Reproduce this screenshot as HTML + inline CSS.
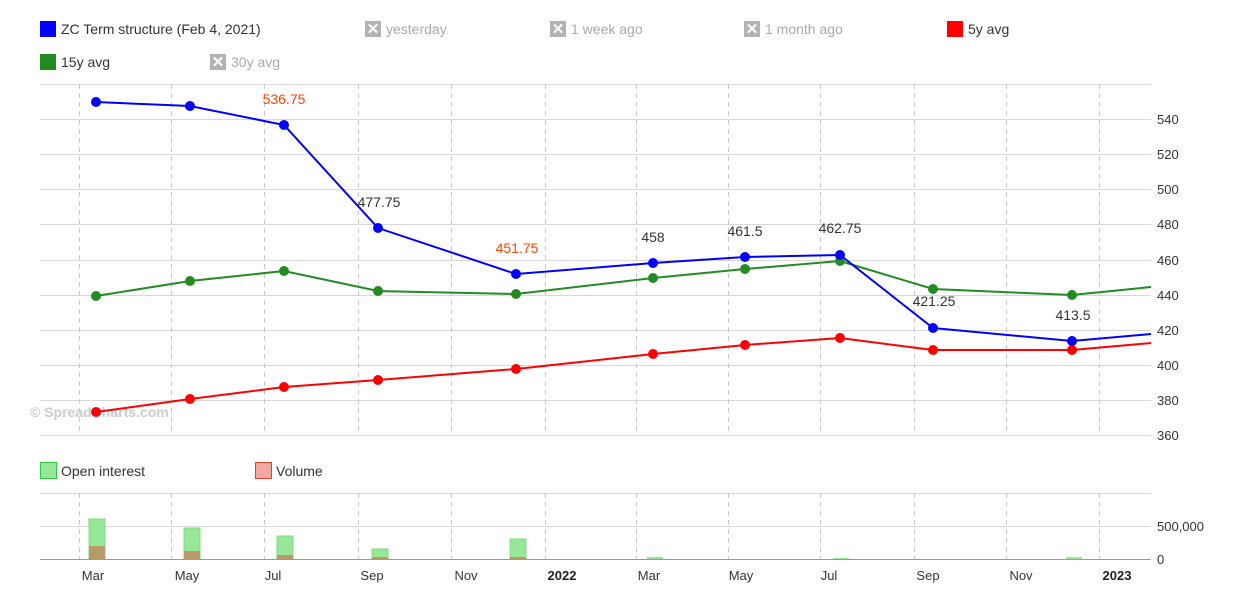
<!DOCTYPE html>
<html><head><style>body{margin:0;background:#fff}svg{display:block;font-family:"Liberation Sans",sans-serif}</style></head><body>
<svg width="1234" height="604" xmlns="http://www.w3.org/2000/svg">
<g font-size="14" fill="#333">
<rect x="40" y="21" width="16" height="16" fill="#0000ff"/><text x="61" y="34">ZC Term structure (Feb 4, 2021)</text>
<rect x="365" y="21" width="16" height="16" fill="#b0b4b4"/><text x="373" y="34" fill="#fff" font-size="15" font-weight="bold" text-anchor="middle">✕</text><text x="386" y="34" fill="#aaa">yesterday</text>
<rect x="550" y="21" width="16" height="16" fill="#b0b4b4"/><text x="558" y="34" fill="#fff" font-size="15" font-weight="bold" text-anchor="middle">✕</text><text x="571" y="34" fill="#aaa">1 week ago</text>
<rect x="744" y="21" width="16" height="16" fill="#b0b4b4"/><text x="752" y="34" fill="#fff" font-size="15" font-weight="bold" text-anchor="middle">✕</text><text x="765" y="34" fill="#aaa">1 month ago</text>
<rect x="947" y="21" width="16" height="16" fill="#ff0000"/><text x="968" y="34">5y avg</text>
<rect x="40" y="54" width="16" height="16" fill="#228b22"/><text x="61" y="67">15y avg</text>
<rect x="210" y="54" width="16" height="16" fill="#b0b4b4"/><text x="218" y="67" fill="#fff" font-size="15" font-weight="bold" text-anchor="middle">✕</text><text x="231" y="67" fill="#aaa">30y avg</text>
<rect x="40.5" y="462.5" width="16" height="16" fill="#98e698" stroke="#2ecc40"/><text x="61" y="476">Open interest</text>
<rect x="255.5" y="462.5" width="16" height="16" fill="#f0a8a0" stroke="#e04030"/><text x="276" y="476">Volume</text>
</g>
<g stroke="#d8d8d8" stroke-width="1">
<line x1="40" x2="1151" y1="84.5" y2="84.5"/><line x1="40" x2="1151" y1="119.5" y2="119.5"/><line x1="40" x2="1151" y1="154.5" y2="154.5"/><line x1="40" x2="1151" y1="189.5" y2="189.5"/><line x1="40" x2="1151" y1="224.5" y2="224.5"/><line x1="40" x2="1151" y1="260.5" y2="260.5"/><line x1="40" x2="1151" y1="295.5" y2="295.5"/><line x1="40" x2="1151" y1="330.5" y2="330.5"/><line x1="40" x2="1151" y1="365.5" y2="365.5"/><line x1="40" x2="1151" y1="400.5" y2="400.5"/><line x1="40" x2="1151" y1="435.5" y2="435.5"/>
<line x1="40" x2="1151" y1="493.5" y2="493.5"/><line x1="40" x2="1151" y1="526.5" y2="526.5"/>
</g>
<g stroke="#c8c8c8" stroke-dasharray="5,4">
<line x1="79.5" x2="79.5" y1="84" y2="435"/><line x1="171.5" x2="171.5" y1="84" y2="435"/><line x1="264.5" x2="264.5" y1="84" y2="435"/><line x1="358.5" x2="358.5" y1="84" y2="435"/><line x1="451.5" x2="451.5" y1="84" y2="435"/><line x1="545.5" x2="545.5" y1="84" y2="435"/><line x1="636.5" x2="636.5" y1="84" y2="435"/><line x1="728.5" x2="728.5" y1="84" y2="435"/><line x1="820.5" x2="820.5" y1="84" y2="435"/><line x1="914.5" x2="914.5" y1="84" y2="435"/><line x1="1006.5" x2="1006.5" y1="84" y2="435"/><line x1="1099.5" x2="1099.5" y1="84" y2="435"/>
<line x1="79.5" x2="79.5" y1="493" y2="559"/><line x1="171.5" x2="171.5" y1="493" y2="559"/><line x1="264.5" x2="264.5" y1="493" y2="559"/><line x1="358.5" x2="358.5" y1="493" y2="559"/><line x1="451.5" x2="451.5" y1="493" y2="559"/><line x1="545.5" x2="545.5" y1="493" y2="559"/><line x1="636.5" x2="636.5" y1="493" y2="559"/><line x1="728.5" x2="728.5" y1="493" y2="559"/><line x1="820.5" x2="820.5" y1="493" y2="559"/><line x1="914.5" x2="914.5" y1="493" y2="559"/><line x1="1006.5" x2="1006.5" y1="493" y2="559"/><line x1="1099.5" x2="1099.5" y1="493" y2="559"/>
</g>
<text x="30" y="417" font-size="14" font-weight="bold" fill="#ccc">© SpreadCharts.com</text>
<g font-size="13" fill="#333">
<text x="1157" y="124">540</text><text x="1157" y="159">520</text><text x="1157" y="194">500</text><text x="1157" y="229">480</text><text x="1157" y="265">460</text><text x="1157" y="300">440</text><text x="1157" y="335">420</text><text x="1157" y="370">400</text><text x="1157" y="405">380</text><text x="1157" y="440">360</text>
<text x="1157" y="531">500,000</text><text x="1157" y="564">0</text>
<g text-anchor="middle"><text x="93" y="580">Mar</text><text x="187" y="580">May</text><text x="273" y="580">Jul</text><text x="372" y="580">Sep</text><text x="466" y="580">Nov</text><text x="562" y="580" font-weight="bold" fill="#222">2022</text><text x="649" y="580">Mar</text><text x="741" y="580">May</text><text x="829" y="580">Jul</text><text x="928" y="580">Sep</text><text x="1021" y="580">Nov</text><text x="1117" y="580" font-weight="bold" fill="#222">2023</text></g>
</g>
<g>
<rect x="89" y="519" width="16" height="40" fill="#98e698" stroke="#7fdc7f"/><rect x="89" y="546" width="16" height="13" fill="#b89a6a"/>
<rect x="184" y="528" width="16" height="31" fill="#98e698" stroke="#7fdc7f"/><rect x="184" y="551" width="16" height="8" fill="#b89a6a"/>
<rect x="277" y="536" width="16" height="23" fill="#98e698" stroke="#7fdc7f"/><rect x="277" y="555" width="16" height="4" fill="#b89a6a"/>
<rect x="372" y="549" width="16" height="10" fill="#98e698" stroke="#7fdc7f"/><rect x="372" y="557" width="16" height="2" fill="#b89a6a"/>
<rect x="510" y="539" width="16" height="20" fill="#98e698" stroke="#7fdc7f"/><rect x="510" y="557" width="16" height="2" fill="#b89a6a"/>
<rect x="647" y="557" width="16" height="2" fill="#98e698"/><rect x="833" y="558" width="16" height="1" fill="#98e698"/><rect x="1066" y="557" width="16" height="2" fill="#98e698"/>
</g>
<line x1="40" x2="1151" y1="559.5" y2="559.5" stroke="#999"/>
<polyline fill="none" stroke="#ff0000" stroke-width="2" points="96,412 190,399 284,387 378,380 516,369 653,354 745,345 840,338 933,350 1072,350 1151,343"/>
<polyline fill="none" stroke="#228b22" stroke-width="2" points="96,296 190,281 284,271 378,291 516,294 653,278 745,269 840,261 933,289 1072,295 1151,287"/>
<polyline fill="none" stroke="#0000ff" stroke-width="2" points="96,102 190,106 284,125 378,228 516,274 653,263 745,257 840,255 933,328 1072,341 1151,334"/>
<g fill="#ff0000"><circle cx="96" cy="412" r="5"/><circle cx="190" cy="399" r="5"/><circle cx="284" cy="387" r="5"/><circle cx="378" cy="380" r="5"/><circle cx="516" cy="369" r="5"/><circle cx="653" cy="354" r="5"/><circle cx="745" cy="345" r="5"/><circle cx="840" cy="338" r="5"/><circle cx="933" cy="350" r="5"/><circle cx="1072" cy="350" r="5"/></g>
<g fill="#228b22"><circle cx="96" cy="296" r="5"/><circle cx="190" cy="281" r="5"/><circle cx="284" cy="271" r="5"/><circle cx="378" cy="291" r="5"/><circle cx="516" cy="294" r="5"/><circle cx="653" cy="278" r="5"/><circle cx="745" cy="269" r="5"/><circle cx="840" cy="261" r="5"/><circle cx="933" cy="289" r="5"/><circle cx="1072" cy="295" r="5"/></g>
<g fill="#0000ff"><circle cx="96" cy="102" r="5"/><circle cx="190" cy="106" r="5"/><circle cx="284" cy="125" r="5"/><circle cx="378" cy="228" r="5"/><circle cx="516" cy="274" r="5"/><circle cx="653" cy="263" r="5"/><circle cx="745" cy="257" r="5"/><circle cx="840" cy="255" r="5"/><circle cx="933" cy="328" r="5"/><circle cx="1072" cy="341" r="5"/></g>
<g font-size="14" text-anchor="middle" fill="#333">
<text x="284" y="104" fill="#ff4500">536.75</text><text x="379" y="207">477.75</text><text x="517" y="253" fill="#ff4500">451.75</text><text x="653" y="242">458</text><text x="745" y="236">461.5</text><text x="840" y="233">462.75</text><text x="934" y="306">421.25</text><text x="1073" y="320">413.5</text>
</g>
</svg>
</body></html>
